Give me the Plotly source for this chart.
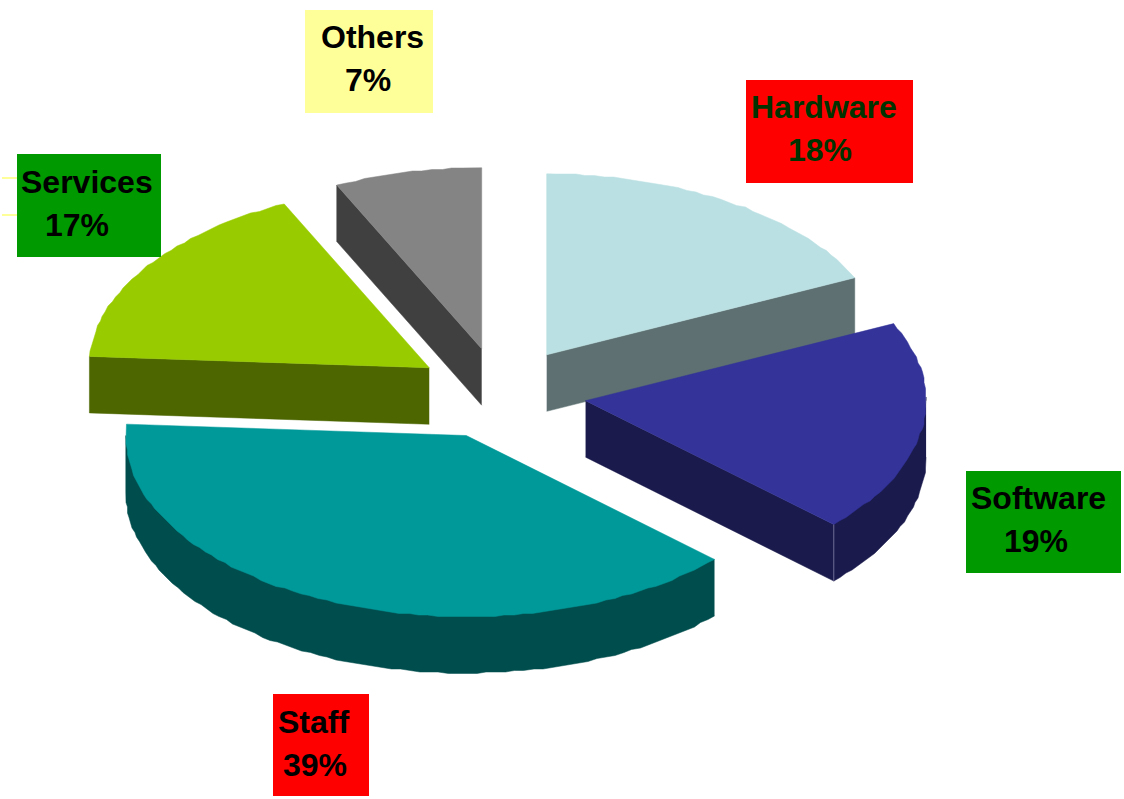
import numpy as np
import plotly.graph_objects as go

categories = ["Hardware", "Software", "Staff", "Services", "Others"]
values = [18, 19, 39, 17, 7]
percent_labels = ["18%", "19%", "39%", "17%", "7%"]
top_colors = ["#BBE0E3", "#333399", "#009999", "#99CC00", "#848484"]
side_colors = ["#5E7072", "#1A1A4D", "#004D4D", "#4D6600", "#404040"]
box_colors = ["#FF0000", "#009900", "#FF0000", "#009900", "#FFFF99"]
text_colors = ["#003300", "#000000", "#000000", "#000000", "#000000"]

# projection of the pie on the page
CX, CY, RX, RY = 500.5, 393.5, 340.5, 181.0
PULL = 0.253
DEPTH = 56.5
FACET_DEG = 1.6   # the source pie is built from small facets
GRID = 1.5

# label boxes: x0, y0, x1, y1, x of name, x of percent, y of name, y of percent
label_layout = {
    "Hardware": (746, 80, 913, 183, 824, 820, 107, 150),
    "Software": (966, 471, 1121, 573, 1038, 1036, 498, 541),
    "Staff": (273, 694, 369, 796, 313, 315, 722, 765),
    "Services": (17, 154, 161, 257, 87, 77, 182, 225),
    "Others": (305, 10, 433, 113, 372, 368, 37, 80),
}

total = sum(values)
edges = np.concatenate([[0.0], np.cumsum(values)]) / total * 2 * np.pi


def point(apex, t):
    return apex[0] + RX * np.sin(t), apex[1] - RY * np.cos(t)


def arc(apex, t0, t1):
    """Faceted arc: end points exact, inner vertices snapped to a small grid."""
    n = max(2, int(np.degrees(t1 - t0) / FACET_DEG) + 1)
    t = np.linspace(t0, t1, n)
    x, y = point(apex, t)
    x[1:-1] = np.round(x[1:-1] / GRID) * GRID
    y[1:-1] = np.round(y[1:-1] / GRID) * GRID
    return x, y


def polygon(xs, ys, colour):
    return go.Scatter(x=list(xs), y=list(ys), mode="lines", fill="toself",
                      fillcolor=colour, line=dict(color=colour, width=0.5),
                      hoverinfo="skip", showlegend=False)


def seam(xs, ys, colour):
    return go.Scatter(x=list(xs), y=list(ys), mode="lines", line=dict(color=colour, width=1),
                      hoverinfo="skip", showlegend=False)


fig = go.Figure()
order = [4, 0, 3, 1, 2]
for i in order:
    a0, a1 = edges[i], edges[i + 1]
    mid = (a0 + a1) / 2
    apex = (CX + PULL * RX * np.sin(mid), CY - PULL * RY * np.cos(mid))

    # outer rim: visible on the front half of the ellipse only
    r0, r1 = max(a0, np.pi / 2), min(a1, 3 * np.pi / 2)
    if r1 > r0:
        # upper edge tucked under the top face so no gap can show between them
        t = np.linspace(r0, r1, 60)
        ux, uy = point((apex[0], apex[1] - 6), t)
        ux[0], uy[0] = point(apex, r0)
        ux[-1], uy[-1] = point(apex, r1)
        bx, by = arc((apex[0], apex[1] + DEPTH), r0, r1)
        fig.add_trace(polygon(np.r_[ux, bx[::-1]], np.r_[uy, by[::-1]], side_colors[i]))

    # cut face that looks toward the viewer
    face = None
    if np.sin(a1) > 0 and a1 < np.pi:      # right-hand slices show their closing edge
        face = a1
    elif np.sin(a0) < 0:                   # left-hand slices show their opening edge
        face = a0
    if face is not None:
        ex, ey = point(apex, face)
        fig.add_trace(polygon([apex[0], ex, ex, apex[0]],
                              [apex[1], ey, ey + DEPTH, apex[1] + DEPTH], side_colors[i]))

    # top face
    x, y = arc(apex, a0, a1)
    fig.add_trace(polygon(np.r_[apex[0], x, apex[0]], np.r_[apex[1], y, apex[1]], top_colors[i]))

    # pale seam on the corner of the navy slice
    if categories[i] == "Software":
        ex, ey = point(apex, a1)
        fig.add_trace(seam([ex, ex], [ey, ey + DEPTH], "#6C6C95"))

shapes = []
for y_tick in (178, 215):
    shapes.append(dict(type="line", x0=2, x1=17, y0=y_tick, y1=y_tick, xref="x", yref="y",
                       line=dict(color="#FFFF99", width=2)))

annotations = []
for i, name in enumerate(categories):
    x0, y0, x1, y1, xn, xp, yn, yp = label_layout[name]
    shapes.append(dict(type="rect", x0=x0, x1=x1, y0=y0, y1=y1, xref="x", yref="y",
                       fillcolor=box_colors[i], line=dict(width=0), layer="above"))
    for text, tx, ty in ((name, xn, yn), (percent_labels[i], xp, yp)):
        annotations.append(dict(text=f"<b>{text}</b>", x=tx, y=ty, xref="x", yref="y",
                                showarrow=False, xanchor="center", yanchor="middle",
                                font=dict(family="Liberation Sans", size=32, color=text_colors[i])))

fig.update_layout(
    width=1124, height=799, margin=dict(l=0, r=0, t=0, b=0),
    paper_bgcolor="white", plot_bgcolor="white", showlegend=False,
    xaxis=dict(range=[0, 1124], visible=False, fixedrange=True),
    yaxis=dict(range=[799, 0], visible=False, fixedrange=True),
    shapes=shapes, annotations=annotations,
)

fig.write_html("out.html", config={"displayModeBar": False},
               post_script="document.body.style.margin='0';document.body.style.overflow='hidden';")
